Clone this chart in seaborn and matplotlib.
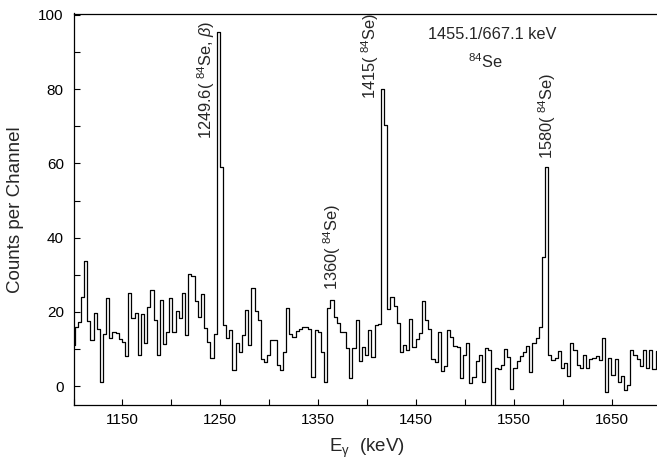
import numpy as np
import pandas as pd
import matplotlib
matplotlib.use("Agg")
import matplotlib.pyplot as plt
import seaborn as sns

# Spectrum: channel width and first channel edge (keV)
channel_width = 3.2274
first_edge = 1097.9
counts = [
    # 1098 - 1246 keV
    11.1, 16, 17.4, 23.9, 33.6,
    17.5, 12.4, 19.8, 15.4, 1.2, 14.1, 23.7, 12.9, 14.7, 14.4, 12.7, 11.8, 8.2,
    25.2, 18.3, 19.6, 8.4, 19.3, 11.5, 21.2, 25.9, 17.7, 8.5, 23.2, 11.4, 14.7,
    23.8, 14.7, 20.3, 18.3, 25.0, 13.7, 30.2, 29.7, 22.8, 18.7, 24.7, 15.6, 12.0,
    7.5, 14.1,
    # 1249.6 peak
    95.5, 59,
    # 1253 - 1414 keV
    16.5, 12.9, 15.1, 4.3, 11.5, 9.3, 13.8, 20.5, 11.1, 26.4, 20.1, 17.8, 7.3,
    6.6, 8.4, 12.4, 12.4, 5.7, 4.3, 9.3, 21, 14, 13.1, 14.8, 15.4, 16, 16, 15.5,
    2.5, 15.1, 14.5, 9.3, 1.2, 21, 23.2, 18.7, 16.9, 14.7, 14.7, 10.2, 2.1, 10.2,
    17.8, 6.7, 10.6, 8.4, 15.1, 7.9, 16.5, 16.6,
    # 1415 peak
    80, 70.4,
    # 1421 - 1579 keV
    20.7, 23.9, 21.5, 16.9, 9.3, 11.0, 9.7, 18, 10.6, 12.7, 14.2, 22.9, 17.8, 15.5,
    7.2, 6.6, 14.7, 4.0, 5.5, 15.1, 13.2, 10.8, 10.4, 2.3, 8.5, 11.5, 0.7, 2.4,
    6.7, 8.4, 1.0, 10.2, 9.7, -8,
    4.9, 4.5, 5.8, 10, 7.9, -0.8, 4.9, 6.8, 8.2, 9.3, 10.9, 3.9, 11.5, 13.0, 16,
    # 1580 peak
    34.7, 59,
    # 1585 - 1701 keV
    8.3, 7.0, 7.6, 9.4, 4.9, 6.2, 2.7, 11.5, 9.8, 5.6, 5.0, 8.5, 4.9, 7.3, 7.7,
    8.1, 6.9, 12.9, -1.7, 7.7, 3.0, 7.3, 1.0, 2.6, -1.1, 0.4, 9.7, 8.5, 7.2, 5.4,
    9.7, 5.0, 9.7, 4.5, 9.5, 5,
]

x_major = [1150, 1250, 1350, 1450, 1550, 1650]
x_minor = [1100, 1200, 1300, 1400, 1500, 1600, 1700]
y_major = [0, 20, 40, 60, 80, 100]
y_minor = [10, 30, 50, 70, 90]

peak_labels = [r"1249.6( $^{84}$Se, $\beta$)", r"1360( $^{84}$Se)",
               r"1415( $^{84}$Se)", r"1580( $^{84}$Se)"]
peak_label_x = [1235.5, 1364.5, 1403, 1584.5]
peak_label_y = [66.5, 25.9, 77.3, 61.2]

edges = first_edge + channel_width * np.arange(len(counts) + 1)
centres = 0.5 * (edges[:-1] + edges[1:])
df = pd.DataFrame({"energy": centres, "counts": counts})

sns.set_style("ticks")
plt.rcParams["font.family"] = ["Liberation Sans", "DejaVu Sans"]
plt.rcParams["mathtext.fontset"] = "custom"
plt.rcParams["mathtext.rm"] = "Liberation Sans"
plt.rcParams["mathtext.it"] = "Liberation Sans:italic"

fig = plt.figure(figsize=(6.57, 4.63), dpi=100)
ax = fig.add_axes([73.5 / 657, 58 / 463, 587 / 657, 391.5 / 463])

sns.histplot(data=df, x="energy", weights="counts", bins=list(edges),
             element="step", fill=False, color="black", linewidth=0.9, ax=ax)

ax.set_xlim(1100, 1700)
ax.set_ylim(-5.1, 100.4)
ax.set_xticks(x_major)
ax.set_xticks(x_minor, minor=True)
ax.set_yticks(y_major)
ax.set_yticks(y_minor, minor=True)
ax.tick_params(which="both", direction="in", length=4, width=0.8,
               labelsize=11, colors="black")
ax.tick_params(axis="x", pad=6)
ax.tick_params(axis="y", pad=7)
for s in ax.spines.values():
    s.set_linewidth(0.9)
    s.set_color("black")

ax.set_xlabel(r"E$_{\mathregular{γ}}$  (keV)", fontsize=13.5, labelpad=7)
ax.set_ylabel("Counts per Channel", fontsize=13.5, labelpad=10)

for t, xx, yy in zip(peak_labels, peak_label_x, peak_label_y):
    ax.text(xx, yy, t, rotation=90, ha="center", va="bottom", fontsize=11.8)

ax.text(1528, 94.7, "1455.1/667.1 keV", ha="center", va="center", fontsize=11.8)
ax.text(1521, 87.5, r"$^{84}$Se", ha="center", va="center", fontsize=11.8)

fig.savefig("out.png", dpi=100)
